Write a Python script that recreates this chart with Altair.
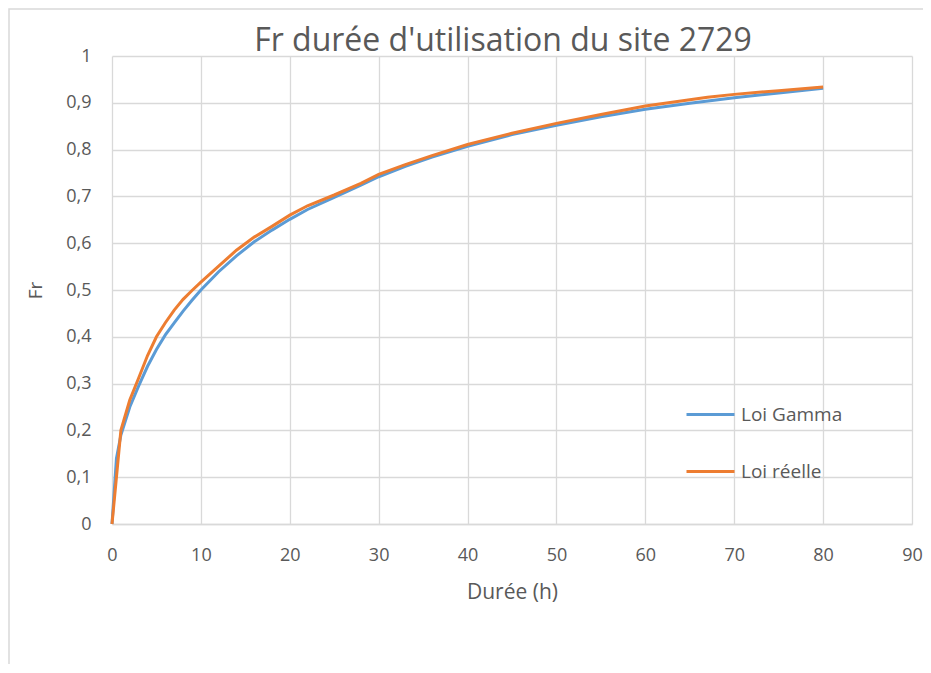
import altair as alt
import pandas as pd

# Loi Gamma (fitted)
gamma_x = [0, 0.5, 1, 2, 3, 4, 5, 6, 7, 8, 9, 10, 12, 14, 16, 18, 20, 22, 25, 28, 30,
           33, 36, 40, 45, 50, 55, 60, 65, 70, 75, 80]
gamma_y = [0, 0.14, 0.19, 0.25, 0.295, 0.337, 0.373, 0.404, 0.43, 0.455, 0.478, 0.50,
           0.539, 0.573, 0.603, 0.628, 0.651, 0.672, 0.698, 0.724, 0.742, 0.764, 0.784,
           0.807, 0.832, 0.852, 0.870, 0.886, 0.899, 0.911, 0.921, 0.931]

# Loi réelle (empirical)
reel_x = [0, 1, 2, 3, 4, 5, 6, 7, 8, 9, 10, 12, 14, 16, 18, 20, 22, 25, 28, 30, 33,
          36, 40, 45, 50, 55, 60, 67, 70, 75, 80]
reel_y = [0, 0.20, 0.265, 0.312, 0.36, 0.40, 0.43, 0.457, 0.48, 0.499, 0.517, 0.551,
          0.585, 0.613, 0.636, 0.660, 0.680, 0.703, 0.728, 0.747, 0.768, 0.787, 0.811,
          0.835, 0.856, 0.875, 0.893, 0.912, 0.918, 0.926, 0.934]

series_names = ["Loi Gamma", "Loi réelle"]
series_colors = ["#5B9BD5", "#ED7D31"]
x_ticks = list(range(0, 91, 10))
y_ticks = [i / 10 for i in range(11)]
title_text = "Fr durée d'utilisation du site 2729"

df = pd.concat([
    pd.DataFrame({"x": gamma_x, "y": gamma_y, "s": series_names[0]}),
    pd.DataFrame({"x": reel_x, "y": reel_y, "s": series_names[1]}),
])

FONT = "Open Sans"
GREY = "#595959"

lines = alt.Chart(df).mark_line(strokeWidth=3).encode(
    x=alt.X("x:Q",
            scale=alt.Scale(domain=[0, 90], nice=False),
            axis=alt.Axis(values=x_ticks, title="Durée (h)", ticks=False,
                          domain=True, domainColor="#d9d9d9", domainWidth=1.3,
                          labelFlush=False, labelPadding=22, titlePadding=17)),
    y=alt.Y("y:Q",
            scale=alt.Scale(domain=[0, 1], nice=False),
            axis=alt.Axis(values=y_ticks, title="Fr", ticks=False, domain=False,
                          format="~g", labelFlush=False,
                          labelExpr="replace(datum.label, '.', ',')",
                          labelPadding=21, titlePadding=20, titleFontSize=19)),
    color=alt.Color("s:N",
                    scale=alt.Scale(domain=series_names, range=series_colors),
                    legend=alt.Legend(title=None, orient="none", legendX=573,
                                      legendY=333, symbolType="stroke",
                                      symbolSize=2304, symbolStrokeWidth=3,
                                      labelFontSize=19, labelColor=GREY,
                                      labelFont=FONT, labelOffset=5,
                                      rowPadding=21, padding=0)),
)

frame = alt.Chart(alt.Data(values=[{}])).mark_rect(
    fill=None, stroke="#d9d9d9", strokeWidth=1.5
).encode(
    x=alt.value(-103), x2=alt.value(950), y=alt.value(-47), y2=alt.value(700)
)

title = alt.Chart(alt.Data(values=[{}])).mark_text(
    font=FONT, fontSize=32, color=GREY, align="center", baseline="alphabetic"
).encode(
    x=alt.value(391), y=alt.value(-5), text=alt.value(title_text)
)

chart = alt.layer(frame, lines, title).properties(
    width=800,
    height=468,
    padding={"left": 104, "top": 48, "right": 11, "bottom": 140},
    autosize=alt.AutoSizeParams(type="none"),
    background="white",
).configure_view(stroke=None).configure_axis(
    gridColor="#d9d9d9", gridWidth=1.3, labelFont=FONT, titleFont=FONT,
    labelFontSize=18, titleFontSize=21, labelColor=GREY, titleColor=GREY,
    titleFontWeight="normal",
)

chart.save("out.html", embed_options={"renderer": "svg", "actions": False})
